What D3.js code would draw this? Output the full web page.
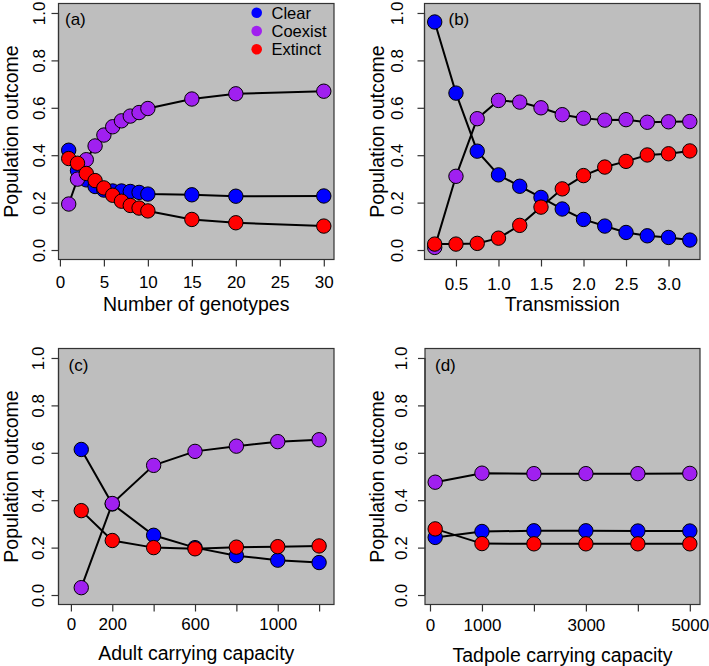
<!DOCTYPE html>
<html>
<head>
<meta charset="utf-8">
<script src="https://cdn.jsdelivr.net/npm/d3@7"></script>
<style>
  html, body { margin: 0; padding: 0; background: #ffffff; }
  svg { display: block; }
  text { font-family: "Liberation Sans", Arial, Helvetica, sans-serif; fill: #000; }
</style>
</head>
<body>
<svg id="chart" width="709" height="666"></svg>
<script>
// ---------------- DATA ----------------
const seriesNames = ["Clear", "Coexist", "Extinct"];
const seriesColors = ["#0000FF", "#A020F0", "#FF0000"];
const yTicks = [0, 0.2, 0.4, 0.6, 0.8, 1.0];

// (a) Number of genotypes
const genotypes = [1, 2, 3, 4, 5, 6, 7, 8, 9, 10, 15, 20, 30];
const genoClear   = [0.421, 0.335, 0.296, 0.268, 0.253, 0.249, 0.249, 0.247, 0.243, 0.236, 0.233, 0.227, 0.228];
const genoCoexist = [0.194, 0.299, 0.381, 0.439, 0.485, 0.520, 0.545, 0.565, 0.580, 0.597, 0.637, 0.659, 0.670];
const genoExtinct = [0.386, 0.366, 0.323, 0.293, 0.262, 0.231, 0.206, 0.188, 0.177, 0.165, 0.129, 0.115, 0.101];
const genoTicks = [0, 5, 10, 15, 20, 25, 30];
const genoLabels = ["0", "5", "10", "15", "20", "25", "30"];

// (b) Transmission
const transmission = [0.25, 0.5, 0.75, 1.0, 1.25, 1.5, 1.75, 2.0, 2.25, 2.5, 2.75, 3.0, 3.25];
const transClear   = [0.962, 0.662, 0.417, 0.317, 0.269, 0.222, 0.173, 0.129, 0.101, 0.074, 0.060, 0.053, 0.042];
const transCoexist = [0.011, 0.311, 0.554, 0.631, 0.624, 0.600, 0.571, 0.556, 0.548, 0.550, 0.539, 0.541, 0.542];
const transExtinct = [0.025, 0.025, 0.028, 0.050, 0.104, 0.181, 0.258, 0.314, 0.350, 0.374, 0.401, 0.406, 0.418];
const transTicks = [0.5, 1.0, 1.5, 2.0, 2.5, 3.0];
const transLabels = ["0.5", "1.0", "1.5", "2.0", "2.5", "3.0"];

// (c) Adult carrying capacity
const adultK = [50, 200, 400, 600, 800, 1000, 1200];
const adultClear   = [0.614, 0.384, 0.252, 0.200, 0.166, 0.147, 0.137];
const adultCoexist = [0.031, 0.386, 0.547, 0.606, 0.628, 0.647, 0.655];
const adultExtinct = [0.356, 0.230, 0.200, 0.195, 0.202, 0.204, 0.207];
const adultTicks = [0, 200, 400, 600, 800, 1000, 1200];
const adultLabels = ["0", "200", "", "600", "", "1000", ""];

// (d) Tadpole carrying capacity
const tadpoleK = [100, 1000, 2000, 3000, 4000, 5000];
const tadClear   = [0.243, 0.268, 0.271, 0.271, 0.270, 0.270];
const tadCoexist = [0.476, 0.514, 0.512, 0.512, 0.512, 0.513];
const tadExtinct = [0.279, 0.217, 0.216, 0.216, 0.216, 0.216];
const tadTicks = [0, 1000, 2000, 3000, 4000, 5000];
const tadLabels = ["0", "1000", "", "3000", "", "5000"];

// ---------------- LAYOUT ----------------
const panels = [
  { tag: "(a)", x: genotypes, ys: [genoClear, genoCoexist, genoExtinct],
    xDomain: [-0.16, 31.16], ticks: genoTicks, labels: genoLabels, title: "Number of genotypes",
    box: { l: 58.5, r: 334, t: 3.5, b: 259.5 }, tagPos: [6.5, 21.5], yLabOff: -19.5, xLabOff: 23, xTitleOff: 44, legend: true },
  { tag: "(b)", x: transmission, ys: [transClear, transCoexist, transExtinct],
    xDomain: [0.13, 3.37], ticks: transTicks, labels: transLabels, title: "Transmission",
    box: { l: 424.5, r: 700, t: 3.5, b: 259.5 }, tagPos: [24, 21.5], yLabOff: -27, xLabOff: 24.5, xTitleOff: 44 },
  { tag: "(c)", x: adultK, ys: [adultClear, adultCoexist, adultExtinct],
    xDomain: [-60, 1272], ticks: adultTicks, labels: adultLabels, title: "Adult carrying capacity",
    box: { l: 58.5, r: 334, t: 348.5, b: 604.5 }, tagPos: [10, 22], yLabOff: -20, xLabOff: 19.5, xTitleOff: 48 },
  { tag: "(d)", x: tadpoleK, ys: [tadClear, tadCoexist, tadExtinct],
    xDomain: [-96, 5196], ticks: tadTicks, labels: tadLabels, title: "Tadpole carrying capacity",
    box: { l: 425, r: 700, t: 348.5, b: 604.5 }, tagPos: [10, 22], yLabOff: -24, xLabOff: 20.5, xTitleOff: 50 }
];

const svg = d3.select("#chart");
const tickLen = 7;
const tickFont = 17;
const titleFont = 19.5;

panels.forEach(p => {
  const B = p.box;
  const g = svg.append("g");
  const x = d3.scaleLinear().domain(p.xDomain).range([B.l, B.r]);
  const y = d3.scaleLinear().domain([-0.04, 1.04]).range([B.b, B.t]);

  // background
  g.append("rect").attr("x", B.l).attr("y", B.t)
    .attr("width", B.r - B.l).attr("height", B.b - B.t)
    .attr("fill", "#BEBEBE");

  // series: line then points
  seriesNames.forEach((name, si) => {
    const pts = p.x.map((xv, i) => [xv, p.ys[si][i]]);
    g.append("path")
      .attr("d", d3.line().x(d => x(d[0])).y(d => y(d[1]))(pts))
      .attr("fill", "none").attr("stroke", "#000").attr("stroke-width", 2);
    g.selectAll(null).data(pts).enter().append("circle")
      .attr("cx", d => x(d[0])).attr("cy", d => y(d[1])).attr("r", 7.2)
      .attr("fill", seriesColors[si]).attr("stroke", "#000").attr("stroke-width", 1);
  });

  // box
  g.append("rect").attr("x", B.l).attr("y", B.t)
    .attr("width", B.r - B.l).attr("height", B.b - B.t)
    .attr("fill", "none").attr("stroke", "#333").attr("stroke-width", 1.2);

  // x axis
  const xAxis = d3.axisBottom(x).tickValues(p.ticks).tickSize(tickLen).tickSizeOuter(0)
    .tickFormat((d, i) => p.labels[i]);
  const xa = g.append("g").attr("transform", `translate(0,${B.b})`).call(xAxis);
  xa.select(".domain").attr("stroke", "#333").attr("stroke-width", 1.2)
    .attr("d", `M${x(p.ticks[0])},0H${x(p.ticks[p.ticks.length - 1])}`);
  xa.selectAll(".tick line").attr("stroke", "#333").attr("stroke-width", 1.2);
  xa.selectAll(".tick text").attr("y", p.xLabOff).attr("dy", "0.35em")
    .attr("font-size", tickFont).attr("fill", "#000")
    .attr("font-family", "Liberation Sans, Arial, sans-serif");

  // y axis
  const yAxis = d3.axisLeft(y).tickValues(yTicks).tickSize(tickLen).tickSizeOuter(0)
    .tickFormat(d3.format(".1f"));
  const ya = g.append("g").attr("transform", `translate(${B.l},0)`).call(yAxis);
  ya.select(".domain").attr("stroke", "#333").attr("stroke-width", 1.2)
    .attr("d", `M0,${y(0)}V${y(1)}`);
  ya.selectAll(".tick line").attr("stroke", "#333").attr("stroke-width", 1.2);
  ya.selectAll(".tick text")
    .attr("x", null).attr("dy", null)
    .attr("transform", `translate(${p.yLabOff},0) rotate(-90)`)
    .attr("text-anchor", "middle").attr("dominant-baseline", "central")
    .attr("font-size", tickFont).attr("fill", "#000")
    .attr("font-family", "Liberation Sans, Arial, sans-serif");

  // titles
  g.append("text").attr("x", (B.l + B.r) / 2).attr("y", B.b + p.xTitleOff)
    .attr("text-anchor", "middle").attr("dominant-baseline", "central")
    .attr("font-size", titleFont).text(p.title);
  g.append("text")
    .attr("transform", `translate(${B.l - 48},${(y(0.5))}) rotate(-90)`)
    .attr("text-anchor", "middle").attr("dominant-baseline", "central")
    .attr("font-size", titleFont).text("Population outcome");

  // panel tag
  g.append("text").attr("x", B.l + p.tagPos[0]).attr("y", B.t + p.tagPos[1])
    .attr("font-size", tickFont).text(p.tag);

  // legend
  if (p.legend) {
    const lg = g.append("g");
    seriesNames.forEach((name, si) => {
      const ly = 12.7 + si * 18.3;
      lg.append("circle").attr("cx", 256.7).attr("cy", ly).attr("r", 5.3)
        .attr("fill", seriesColors[si]);
      lg.append("text").attr("x", 271.5).attr("y", ly)
        .attr("dominant-baseline", "central").attr("font-size", 16.5).text(name);
    });
  }
});
</script>
</body>
</html>
